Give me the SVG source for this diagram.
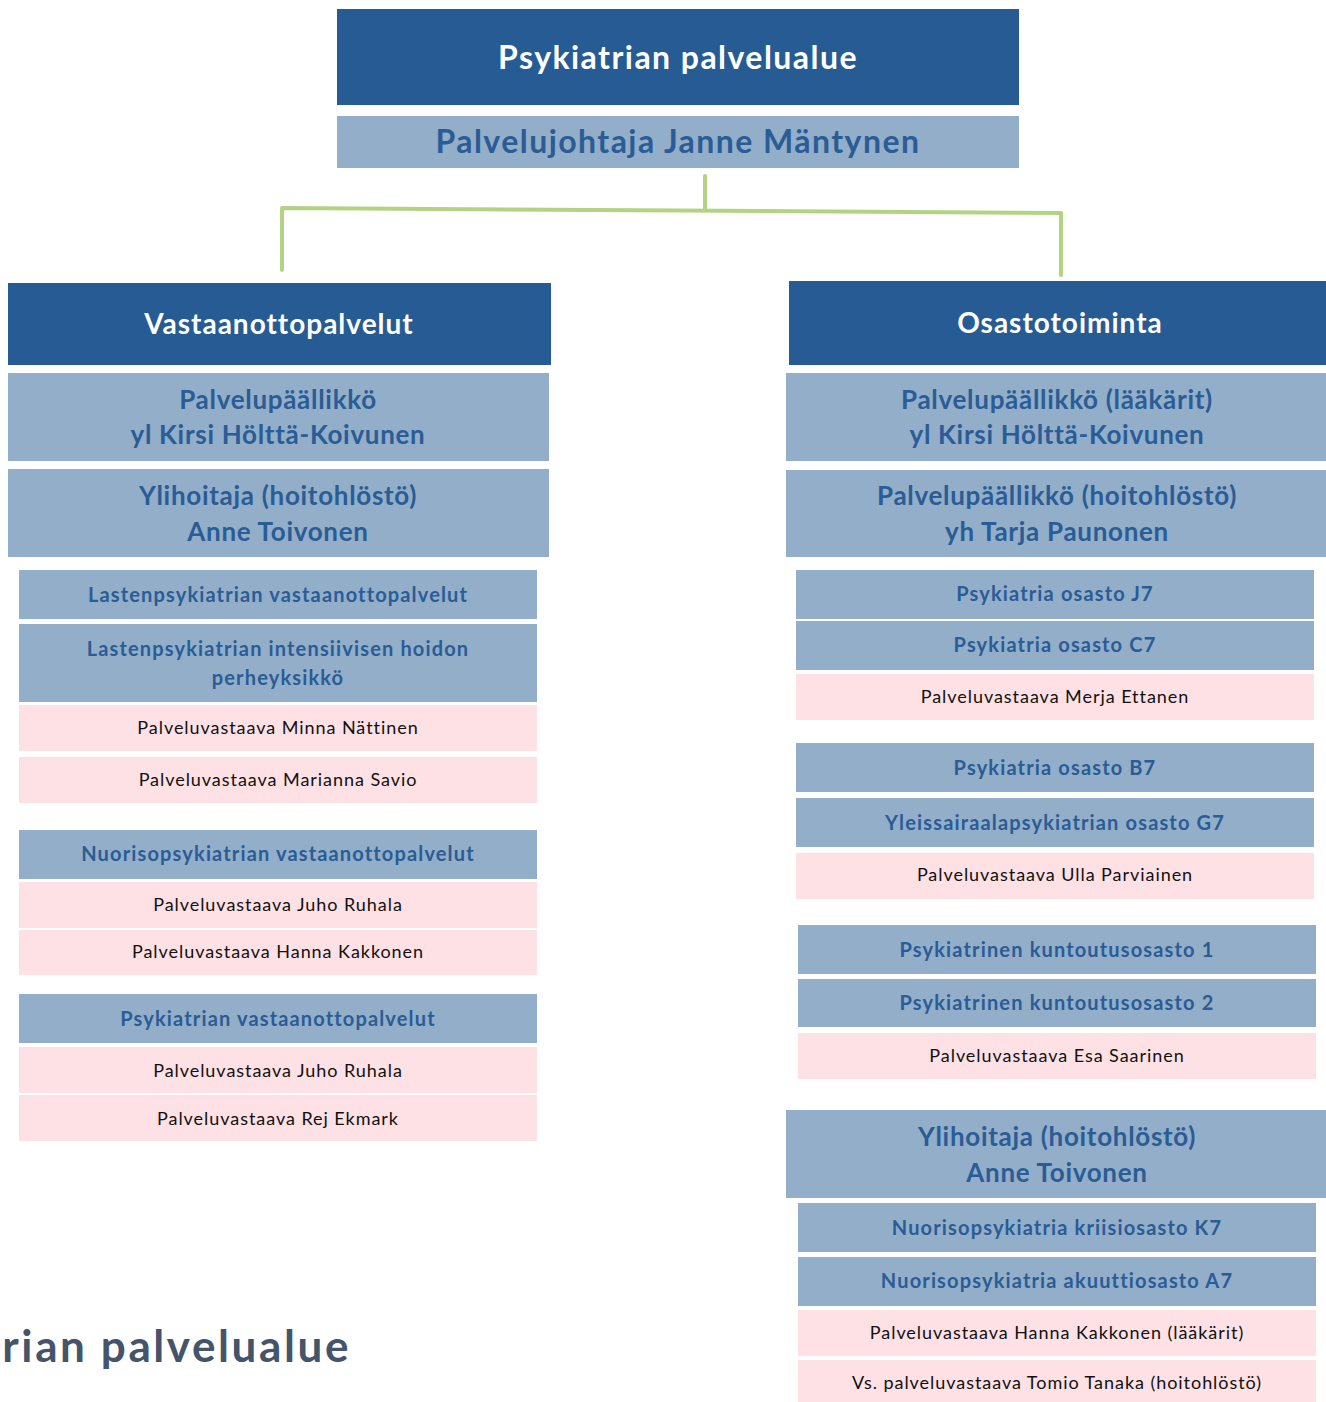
<svg xmlns="http://www.w3.org/2000/svg" width="1326" height="1402" viewBox="0 0 1326 1402">
<style>
text{font-family:Lato,"Open Sans","Liberation Sans",sans-serif;text-anchor:middle}
.dark{fill:#265b93}
.light{fill:#92aec9}
.pink{fill:#fde1e4}
.tw{fill:#ffffff;font-weight:bold}
.tb{fill:#2a5c96;font-weight:bold}
.tk{fill:#111111;font-size:18px;letter-spacing:0.95px}
.s32{font-size:32px;letter-spacing:1.45px}
.s28{font-size:28px;letter-spacing:1px}
.s26{font-size:26px;letter-spacing:0.7px}
.s20{font-size:20px;letter-spacing:1.15px}
.conn{fill:none;stroke:#b3d383;stroke-width:4;stroke-linecap:round;stroke-linejoin:round}
</style>
<rect width="1326" height="1402" fill="#ffffff"/>
<g id="connectors">
<path class="conn" d="M705 176 V209"/>
<path class="conn" d="M282 270 V208 L1061 213 V275"/>
</g>
<g id="n-top"><rect class="dark" x="337" y="9" width="682" height="96"/><text class="tw s32" x="678" y="69">Psykiatrian palvelualue</text></g>
<g id="n-johtaja"><rect class="light" x="337" y="116" width="682" height="52"/><text class="tb s32" x="678" y="153">Palvelujohtaja Janne Mäntynen</text></g>

<g id="n-vastaanotto"><rect class="dark" x="8" y="283" width="543" height="82"/><text class="tw s28" x="279" y="334">Vastaanottopalvelut</text></g>
<g id="n-l-ppaal"><rect class="light" x="8" y="373" width="541" height="88"/><text class="tb s26" x="278" y="409">Palvelupäällikkö</text><text class="tb s26" x="278" y="444">yl Kirsi Hölttä-Koivunen</text></g>
<g id="n-l-ylih"><rect class="light" x="8" y="469" width="541" height="88"/><text class="tb s26" x="278" y="505">Ylihoitaja (hoitohlöstö)</text><text class="tb s26" x="278" y="541">Anne Toivonen</text></g>

<g id="n-lasten-vo"><rect class="light" x="19" y="570" width="518" height="49"/><text class="tb s20" x="278" y="602">Lastenpsykiatrian vastaanottopalvelut</text></g>
<g id="n-lasten-int"><rect class="light" x="19" y="624" width="518" height="78"/><text class="tb s20" x="278" y="656">Lastenpsykiatrian intensiivisen hoidon</text><text class="tb s20" x="278" y="685">perheyksikkö</text></g>
<g id="n-minna"><rect class="pink" x="19" y="705" width="518" height="46"/><text class="tk" x="278" y="734">Palveluvastaava Minna Nättinen</text></g>
<g id="n-marianna"><rect class="pink" x="19" y="757" width="518" height="46"/><text class="tk" x="278" y="786">Palveluvastaava Marianna Savio</text></g>
<g id="n-nuoriso-vo"><rect class="light" x="19" y="830" width="518" height="49"/><text class="tb s20" x="278" y="861">Nuorisopsykiatrian vastaanottopalvelut</text></g>
<g id="n-juho1"><rect class="pink" x="19" y="882" width="518" height="46"/><text class="tk" x="278" y="911">Palveluvastaava Juho Ruhala</text></g>
<g id="n-hanna1"><rect class="pink" x="19" y="930" width="518" height="45"/><text class="tk" x="278" y="958">Palveluvastaava Hanna Kakkonen</text></g>
<g id="n-psyk-vo"><rect class="light" x="19" y="994" width="518" height="49"/><text class="tb s20" x="278" y="1026">Psykiatrian vastaanottopalvelut</text></g>
<g id="n-juho2"><rect class="pink" x="19" y="1047" width="518" height="46"/><text class="tk" x="278" y="1077">Palveluvastaava Juho Ruhala</text></g>
<g id="n-rej"><rect class="pink" x="19" y="1095" width="518" height="46"/><text class="tk" x="278" y="1125">Palveluvastaava Rej Ekmark</text></g>

<g id="n-osasto"><rect class="dark" x="789" y="281" width="537" height="84"/><text class="tw s28" x="1060" y="333">Osastotoiminta</text></g>
<g id="n-r-ppaal1"><rect class="light" x="786" y="373" width="540" height="88"/><text class="tb s26" x="1057" y="409">Palvelupäällikkö (lääkärit)</text><text class="tb s26" x="1057" y="444">yl Kirsi Hölttä-Koivunen</text></g>
<g id="n-r-ppaal2"><rect class="light" x="786" y="470" width="540" height="87"/><text class="tb s26" x="1057" y="505">Palvelupäällikkö (hoitohlöstö)</text><text class="tb s26" x="1057" y="541">yh Tarja Paunonen</text></g>

<g id="n-j7"><rect class="light" x="796" y="570" width="518" height="49"/><text class="tb s20" x="1055" y="601">Psykiatria osasto J7</text></g>
<g id="n-c7"><rect class="light" x="796" y="621" width="518" height="49"/><text class="tb s20" x="1055" y="652">Psykiatria osasto C7</text></g>
<g id="n-merja"><rect class="pink" x="796" y="674" width="518" height="46"/><text class="tk" x="1055" y="703">Palveluvastaava Merja Ettanen</text></g>
<g id="n-b7"><rect class="light" x="796" y="743" width="518" height="49"/><text class="tb s20" x="1055" y="775">Psykiatria osasto B7</text></g>
<g id="n-g7"><rect class="light" x="796" y="798" width="518" height="49"/><text class="tb s20" x="1055" y="830">Yleissairaalapsykiatrian osasto G7</text></g>
<g id="n-ulla"><rect class="pink" x="796" y="853" width="518" height="46"/><text class="tk" x="1055" y="881">Palveluvastaava Ulla Parviainen</text></g>
<g id="n-kunt1"><rect class="light" x="798" y="925" width="518" height="49"/><text class="tb s20" x="1057" y="957">Psykiatrinen kuntoutusosasto 1</text></g>
<g id="n-kunt2"><rect class="light" x="798" y="979" width="518" height="48"/><text class="tb s20" x="1057" y="1010">Psykiatrinen kuntoutusosasto 2</text></g>
<g id="n-esa"><rect class="pink" x="798" y="1033" width="518" height="46"/><text class="tk" x="1057" y="1062">Palveluvastaava Esa Saarinen</text></g>

<g id="n-r-ylih"><rect class="light" x="786" y="1110" width="540" height="88"/><text class="tb s26" x="1057" y="1146">Ylihoitaja (hoitohlöstö)</text><text class="tb s26" x="1057" y="1182">Anne Toivonen</text></g>
<g id="n-k7"><rect class="light" x="798" y="1203" width="518" height="49"/><text class="tb s20" x="1057" y="1235">Nuorisopsykiatria kriisiosasto K7</text></g>
<g id="n-a7"><rect class="light" x="798" y="1257" width="518" height="49"/><text class="tb s20" x="1057" y="1288">Nuorisopsykiatria akuuttiosasto A7</text></g>
<g id="n-hanna2"><rect class="pink" x="798" y="1310" width="518" height="46"/><text class="tk" x="1057" y="1339">Palveluvastaava Hanna Kakkonen (lääkärit)</text></g>
<g id="n-tomio"><rect class="pink" x="798" y="1360" width="518" height="42"/><text class="tk" x="1057" y="1389">Vs. palveluvastaava Tomio Tanaka (hoitohlöstö)</text></g>

<text x="351" y="1362" style="text-anchor:end;font-size:44px;font-weight:bold;fill:#44546a;letter-spacing:2.6px">rian palvelualue</text>
</svg>
